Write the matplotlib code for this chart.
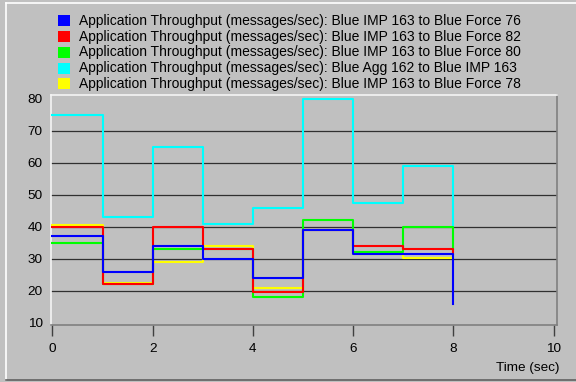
import matplotlib
matplotlib.use("Agg")
import matplotlib.pyplot as plt
from matplotlib.lines import Line2D

plt.rcParams["font.family"] = ["Liberation Sans", "DejaVu Sans"]

# sample times (one value per second, last one is the final sample)
times = [0, 1, 2, 3, 4, 5, 6, 7, 8]

force76 = [37, 26, 34, 30, 24, 39, 31.5, 31.5, 16]
force82 = [40, 22, 40, 33, 19.5, 39, 34, 33, 31.5]
force80 = [35, 22, 33, 33, 18, 42, 32, 40, 33]
agg162 = [75, 43, 65, 41, 46, 80, 47.5, 59, 40]
force78 = [40.6, 22.5, 29, 34, 20.8, 39, 31.5, 30.2, 30.2]

labels = [
    "Application Throughput (messages/sec): Blue IMP 163 to Blue Force 76",
    "Application Throughput (messages/sec): Blue IMP 163 to Blue Force 82",
    "Application Throughput (messages/sec): Blue IMP 163 to Blue Force 80",
    "Application Throughput (messages/sec): Blue Agg 162 to Blue IMP 163",
    "Application Throughput (messages/sec): Blue IMP 163 to Blue Force 78",
]
colors = ["#0000ff", "#ff0000", "#00ff00", "#00ffff", "#ffff00"]
series = [force76, force82, force80, agg162, force78]

bg = "#c0c0c0"
fig = plt.figure(figsize=(5.76, 3.82), dpi=100, facecolor=bg)
ax = fig.add_axes([0.0885, 0.149, 0.878, 0.602], facecolor=bg)

# horizontal grid lines
for y in range(20, 80, 10):
    ax.axhline(y, color="#303030", lw=0.9, zorder=1)

# draw bottom-up so the first legend entry ends on top
for i in reversed(range(len(series))):
    ax.step(times, series[i], where="post", color=colors[i], lw=1.5, zorder=2 + (len(series) - i))

ax.set_xlim(-0.03, 10.06)
ax.set_ylim(9.28, 81.15)
ax.set_xticks([0, 2, 4, 6, 8, 10])
ax.set_yticks(range(10, 90, 10))
ax.tick_params(axis="x", direction="out", length=8, width=1, color="#404040", pad=5, labelsize=9.7)
ax.tick_params(axis="y", length=0, pad=6, labelsize=9.7)

# sunken panel look
ax.spines["left"].set_color("#f4f4f4")
ax.spines["top"].set_color("#f4f4f4")
ax.spines["right"].set_color("#808080")
ax.spines["bottom"].set_color("#808080")
for s in ax.spines.values():
    s.set_linewidth(1.2)

fig.text(559 / 576, 1 - 368 / 382, "Time (sec)", ha="right", va="center", fontsize=9.7)

# legend rows with colour squares
for i, (lab, c) in enumerate(zip(labels, colors)):
    y = 1 - (20.7 + 15.8 * i) / 382
    fig.patches.append(plt.Rectangle((58 / 576, y - 5.5 / 382), 12 / 576, 11 / 382,
                                     transform=fig.transFigure, facecolor=c, edgecolor="none"))
    fig.text(79 / 576, y, lab, ha="left", va="center", fontsize=10)

# window frame
fig.add_artist(Line2D([6 / 576, 1], [1 - 3 / 382, 1 - 3 / 382], color="white", lw=1.2))
fig.add_artist(Line2D([6 / 576, 6 / 576], [1 - 3 / 382, 1 - 380 / 382], color="white", lw=1.2))
fig.add_artist(Line2D([6 / 576, 1], [1 - 380 / 382, 1 - 380 / 382], color="#606060", lw=1.2))

fig.savefig("out.png", dpi=100, facecolor=bg)
